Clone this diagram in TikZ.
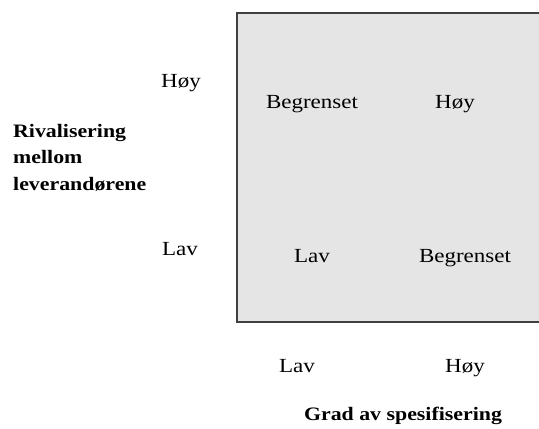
\documentclass[tikz,border=0pt]{standalone}
\usepackage{fontspec}
\setmainfont{Liberation Serif}
\newfontfamily\lblfont[FakeStretch=1.15]{Liberation Serif}
\begin{document}
\begin{tikzpicture}[x=1pt,y=-1pt,
  lbl/.style={inner sep=0pt,anchor=base,font=\lblfont\fontsize{20}{26}\selectfont},
  title/.style={inner sep=0pt,font=\lblfont\bfseries\fontsize{19}{26.5}\selectfont},
  matrixbox/.style={fill=black!10,draw=black!75,line width=2pt}]
  \useasboundingbox (0,0) rectangle (539,429);
  \clip (0,0) rectangle (539,429);
  % the matrix area, running past the right edge
  \draw[matrixbox] (236.5,12.5) rectangle (560,322);
  % vertical axis
  \node[lbl] (yhigh) at (181,87) {Høy};
  \node[lbl] (ylow) at (180,255) {Lav};
  % base of a multi-line node sits on its last line
  \node[title,anchor=base west,align=left] (ytitle) at (13,190)
    {Rivalisering\\mellom\\leverandørene};
  % cells
  \node[lbl] (c11) at (312,108) {Begrenset};
  \node[lbl] (c12) at (455,108) {Høy};
  \node[lbl] (c21) at (312,262) {Lav};
  \node[lbl] (c22) at (465,262) {Begrenset};
  % horizontal axis
  \node[lbl] (xlow) at (297,372) {Lav};
  \node[lbl] (xhigh) at (465,372) {Høy};
  \node[title,anchor=base] (xtitle) at (403,420) {Grad av spesifisering};
\end{tikzpicture}
\end{document}
